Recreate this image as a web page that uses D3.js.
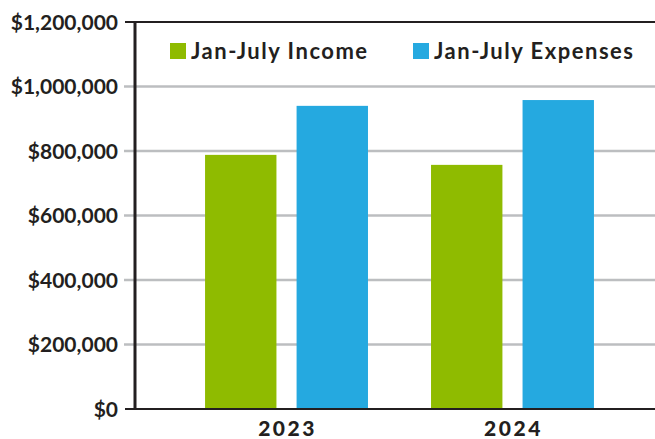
<!DOCTYPE html>
<html>
<head>
<meta charset="utf-8">
<script src="https://cdn.jsdelivr.net/npm/d3@7"></script>
<style>
  html, body { margin: 0; padding: 0; background: #fff; }
  text { font-family: Lato, "Open Sans", sans-serif; fill: #231f20; }
</style>
</head>
<body>
<div id="chart"></div>
<script>
const years = ["2023", "2024"];
const seriesNames = ["Jan-July Income", "Jan-July Expenses"];
const income = [788000, 757000];
const expenses = [940000, 958000];
const yTicks = [0, 200000, 400000, 600000, 800000, 1000000, 1200000];
const colors = ["#8fbb00", "#25a9e0"];

const W = 655, H = 439;
const plotLeft = 135, plotTop = 22, plotBottom = 409;

const data = years.map((yr, i) => ({ year: yr, values: [income[i], expenses[i]] }));

const svg = d3.select("#chart")
  .append("svg")
  .attr("width", W)
  .attr("height", H);

const y = d3.scaleLinear()
  .domain([0, 1200000])
  .range([plotBottom, plotTop]);

const x0 = d3.scaleBand()
  .domain(years)
  .range([plotLeft, 664])
  .paddingInner(0.279)
  .paddingOuter(0.31);

const x1 = d3.scaleBand()
  .domain(seriesNames)
  .range([0, x0.bandwidth()])
  .paddingInner(0.22);

// gridlines
svg.append("g")
  .selectAll("line")
  .data(yTicks.filter(t => t > 0 && t < 1200000))
  .join("line")
  .attr("x1", 124)
  .attr("x2", W)
  .attr("y1", d => y(d))
  .attr("y2", d => y(d))
  .attr("stroke", "#bcbec0")
  .attr("stroke-width", 2.5);

// top line
svg.append("line")
  .attr("x1", 125).attr("x2", W)
  .attr("y1", y(1200000)).attr("y2", y(1200000))
  .attr("stroke", "#231f20")
  .attr("stroke-width", 2);

// y labels
svg.append("g")
  .selectAll("text")
  .data(yTicks)
  .join("text")
  .attr("x", 118)
  .attr("y", d => y(d))
  .attr("dy", "0.36em")
  .attr("text-anchor", "end")
  .style("font-size", "21px")
  .style("font-weight", 700)
  .text(d => "$" + d3.format(",")(d));

// bars
svg.append("g")
  .selectAll("g")
  .data(data)
  .join("g")
  .attr("transform", d => `translate(${x0(d.year)},0)`)
  .selectAll("rect")
  .data(d => d.values.map((v, i) => ({ key: seriesNames[i], value: v, i })))
  .join("rect")
  .attr("x", d => x1(d.key))
  .attr("y", d => y(d.value))
  .attr("width", x1.bandwidth())
  .attr("height", d => y(0) - y(d.value))
  .attr("fill", d => colors[d.i]);

// axes lines
svg.append("line")
  .attr("x1", plotLeft).attr("x2", plotLeft)
  .attr("y1", plotTop).attr("y2", plotBottom)
  .attr("stroke", "#231f20")
  .attr("stroke-width", 3);

svg.append("line")
  .attr("x1", 125).attr("x2", W)
  .attr("y1", plotBottom).attr("y2", plotBottom)
  .attr("stroke", "#231f20")
  .attr("stroke-width", 2);

// x labels
svg.append("g")
  .selectAll("text")
  .data(years)
  .join("text")
  .attr("x", d => x0(d) + x0.bandwidth() / 2 + 1)
  .attr("y", 436)
  .attr("text-anchor", "middle")
  .style("font-size", "21px")
  .style("font-weight", 900)
  .style("letter-spacing", "2.5px")
  .text(d => d);

// legend
const legendX = [170, 413];
const legend = svg.append("g");
seriesNames.forEach((name, i) => {
  const g = legend.append("g").attr("transform", `translate(${legendX[i]},43)`);
  g.append("rect")
    .attr("width", 16)
    .attr("height", 16)
    .attr("fill", colors[i]);
  g.append("text")
    .attr("x", 21)
    .attr("y", 16)
    .style("font-size", "22px")
    .style("font-weight", 700)
    .style("letter-spacing", "1.5px")
    .text(name);
});
</script>
</body>
</html>
